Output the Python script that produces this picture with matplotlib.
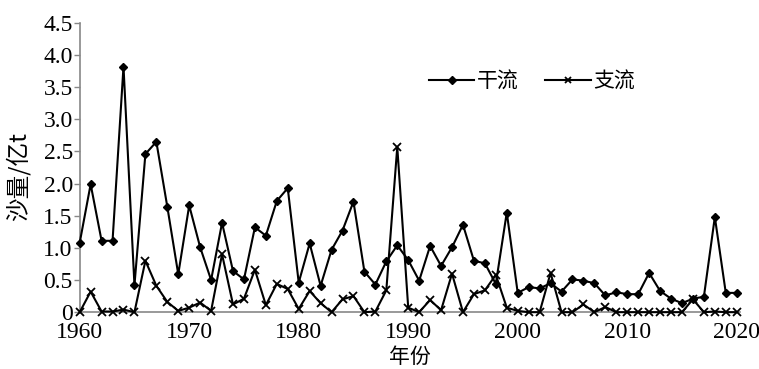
import numpy as np
import matplotlib.pyplot as plt
from matplotlib import font_manager

years = list(range(1960, 2021))

# 干流 sediment load (亿t)
main_stream = [1.08, 1.99, 1.11, 1.11, 3.82, 0.42, 2.46, 2.65, 1.64, 0.59,
               1.66, 1.01, 0.50, 1.39, 0.64, 0.51, 1.32, 1.19, 1.73, 1.93,
               0.46, 1.07, 0.41, 0.97, 1.27, 1.72, 0.63, 0.43, 0.79, 1.04,
               0.81, 0.49, 1.03, 0.72, 1.01, 1.36, 0.80, 0.76, 0.44, 1.55,
               0.30, 0.39, 0.37, 0.45, 0.32, 0.51, 0.49, 0.45, 0.26, 0.31,
               0.28, 0.28, 0.61, 0.33, 0.21, 0.14, 0.21, 0.24, 1.48, 0.30,
               0.30]

# 支流 sediment load (亿t)
tributary = [0.00, 0.32, 0.01, 0.01, 0.04, 0.00, 0.80, 0.41, 0.16, 0.02,
             0.07, 0.15, 0.02, 0.90, 0.12, 0.21, 0.66, 0.11, 0.44, 0.36,
             0.05, 0.33, 0.14, 0.00, 0.20, 0.25, 0.00, 0.01, 0.34, 2.57,
             0.07, 0.00, 0.19, 0.03, 0.60, 0.00, 0.28, 0.34, 0.58, 0.07,
             0.02, 0.00, 0.00, 0.61, 0.00, 0.00, 0.12, 0.00, 0.08, 0.00,
             0.00, 0.00, 0.00, 0.00, 0.00, 0.00, 0.20, 0.00, 0.01, 0.00,
             0.00]

yticks = [0, 0.5, 1.0, 1.5, 2.0, 2.5, 3.0, 3.5, 4.0, 4.5]
ytick_labels = ['0', '0.5', '1.0', '1.5', '2.0', '2.5', '3.0', '3.5', '4.0', '4.5']
xticks = [1960, 1970, 1980, 1990, 2000, 2010, 2020]

cjk_fonts = ['Noto Sans CJK SC', 'DejaVu Sans']
serif_path = font_manager.findfont(font_manager.FontProperties(family='Liberation Serif'))
tick_font = font_manager.FontProperties(fname=serif_path, size=17)

fig = plt.figure(figsize=(7.59, 3.69), dpi=100)
ax = fig.add_axes([0.105, 0.154, 0.87, 0.784])

ax.plot(years, main_stream, color='black', lw=1.5, marker='D', markersize=4.5,
        label='干流', clip_on=False, zorder=3)
ax.plot(years, tributary, color='black', lw=1.5, marker='x', markersize=6,
        markeredgewidth=1.3, label='支流', clip_on=False, zorder=3)

ax.set_xlim(1960, 2020.3)
ax.set_ylim(0, 4.5)
ax.set_yticks(yticks)
ax.set_yticklabels(ytick_labels)
ax.set_xticks(xticks)
ax.set_xticklabels([str(x) for x in xticks])
for lbl in ax.get_xticklabels() + ax.get_yticklabels():
    lbl.set_fontproperties(tick_font)

for s in ['top', 'right']:
    ax.spines[s].set_visible(False)
for s in ['left', 'bottom']:
    ax.spines[s].set_color('#888888')
    ax.spines[s].set_linewidth(1.2)

ax.tick_params(axis='y', direction='out', length=4, width=1, color='#888888', pad=1)
ax.tick_params(axis='x', length=0, pad=7)

ax.set_xlabel('年份', fontsize=15, labelpad=2, family=cjk_fonts)
ax.set_ylabel('沙量/亿t', fontsize=17, family=cjk_fonts)
ax.yaxis.set_label_coords(-0.075, 0.47)

leg = ax.legend(loc='upper left', bbox_to_anchor=(0.5, 0.9), ncol=2, frameon=False,
                prop={'family': cjk_fonts, 'size': 15},
                handlelength=2.2, handletextpad=0.1, columnspacing=1.3,
                markerscale=0.8)

fig.savefig('out.png', dpi=100)
